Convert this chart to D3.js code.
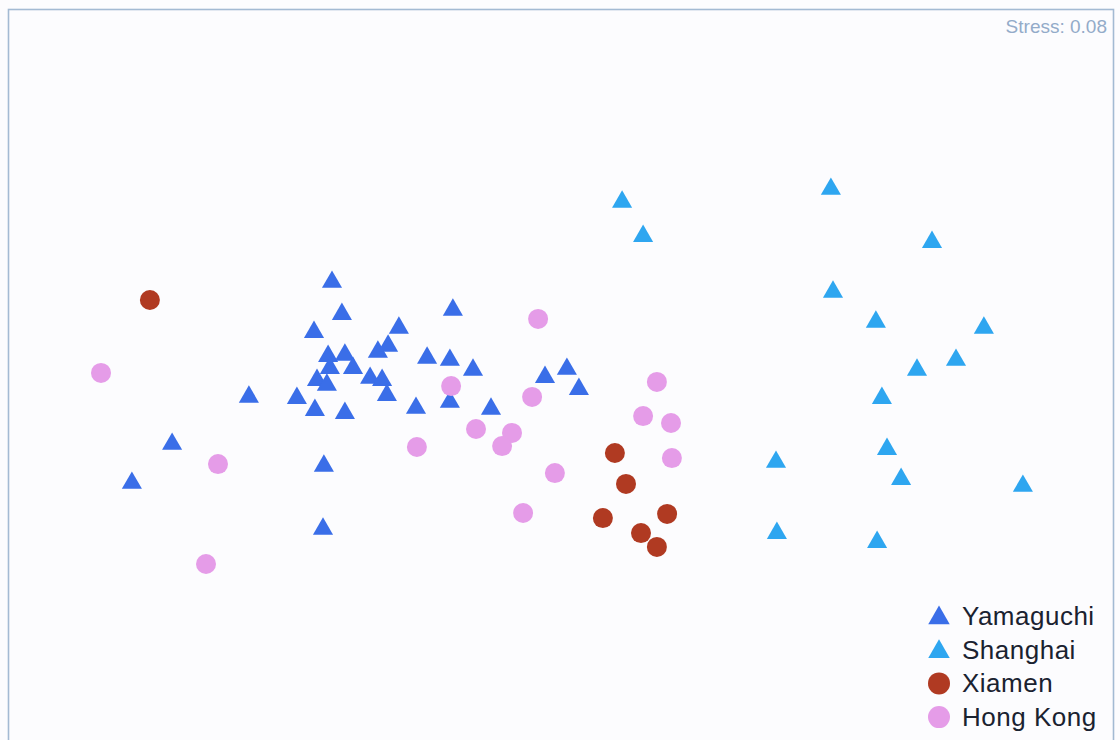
<!DOCTYPE html>
<html>
<head>
<meta charset="utf-8">
<script src="https://cdn.jsdelivr.net/npm/d3@7"></script>
<style>
  html, body { margin: 0; padding: 0; background: #fcfcfe; }
  svg { display: block; }
</style>
</head>
<body>
<svg id="chart" width="1120" height="740"></svg>
<script>
// NMDS coordinates (axis 1, axis 2) for each site group
const yamaguchi = [
  [-0.760, 0.320], [-0.727, 0.213], [-0.820, 0.153], [-0.537, 0.167], [-0.357, 0.227],
  [-0.773, 0.073], [-0.717, 0.077], [-0.767, 0.033], [-0.690, 0.033], [-0.607, 0.087],
  [-0.573, 0.107], [-0.443, 0.067], [-0.367, 0.060], [-0.290, 0.027], [-0.810, -0.007],
  [-0.777, -0.023], [-0.633, 0.000], [-0.593, -0.007], [-0.577, -0.057], [-1.037, -0.063],
  [-0.877, -0.067], [-0.817, -0.107], [-0.717, -0.117], [-0.480, -0.100], [-0.367, -0.080],
  [-0.230, -0.103], [-0.050, 0.003], [0.023, 0.030], [0.063, -0.037], [-1.293, -0.220],
  [-1.427, -0.350], [-0.787, -0.293], [-0.790, -0.503]
];
const shanghai = [
  [0.207, 0.587], [0.277, 0.473], [0.903, 0.630], [1.240, 0.453], [0.910, 0.287],
  [1.053, 0.187], [1.413, 0.167], [1.320, 0.060], [1.190, 0.027], [1.073, -0.067],
  [1.090, -0.237], [0.720, -0.280], [1.137, -0.337], [1.543, -0.360], [0.723, -0.517],
  [1.057, -0.547]
];
const xiamen = [
  [-1.367, 0.250], [0.183, -0.260], [0.220, -0.363], [0.143, -0.477], [0.357, -0.463],
  [0.270, -0.527], [0.323, -0.573]
];
const hongKong = [
  [-1.530, 0.007], [-1.140, -0.297], [-1.180, -0.630], [-0.073, 0.187], [-0.363, -0.037],
  [-0.093, -0.073], [-0.477, -0.240], [-0.280, -0.180], [-0.160, -0.193], [-0.193, -0.237],
  [-0.017, -0.327], [-0.123, -0.460], [0.323, -0.023], [0.277, -0.137], [0.370, -0.160],
  [0.373, -0.277]
];
const groupNames = ["Yamaguchi", "Shanghai", "Xiamen", "Hong Kong"];
const stressLabel = "Stress: 0.08";

const groups = [
  { name: groupNames[0], pts: yamaguchi, shape: d3.symbolTriangle, color: "#3a6ee8" },
  { name: groupNames[1], pts: shanghai,  shape: d3.symbolTriangle, color: "#2ea6f0" },
  { name: groupNames[2], pts: xiamen,    shape: d3.symbolCircle,   color: "#b03a22" },
  { name: groupNames[3], pts: hongKong,  shape: d3.symbolCircle,   color: "#e59ce8" }
];

const svg = d3.select("#chart");
const x = d3.scaleLinear().domain([-1.8, 1.8]).range([20, 1100]);
const y = d3.scaleLinear().domain([-1.2, 1.2]).range([735, 15]);

// frame
svg.append("rect")
  .attr("x", 8.5).attr("y", 9.5)
  .attr("width", 1105).attr("height", 740)
  .attr("fill", "#fcfcfe")
  .attr("stroke", "#a3bad3")
  .attr("stroke-width", 1.6);

// stress
svg.append("text")
  .attr("x", 1107).attr("y", 33)
  .attr("text-anchor", "end")
  .attr("font-family", "Liberation Sans, Arial, sans-serif")
  .attr("font-size", 19)
  .attr("fill", "#93abc9")
  .text(stressLabel);

const isTri = s => s === d3.symbolTriangle;
const sizeOf = s => isTri(s) ? 175 : 314;

groups.forEach(g => {
  // triangles: shift so bounding-box centre (not centroid) sits on the point
  const dy = isTri(g.shape) ? 3 : 0;
  svg.append("g").selectAll("path")
    .data(g.pts)
    .join("path")
    .attr("transform", d => `translate(${x(d[0])},${y(d[1]) + dy})`)
    .attr("d", d3.symbol().type(g.shape).size(sizeOf(g.shape)))
    .attr("fill", g.color);
});

// legend
const leg = svg.append("g").attr("transform", "translate(939,616)");
groups.forEach((g, i) => {
  const row = leg.append("g").attr("transform", `translate(0,${i * 33.7})`);
  row.append("path")
    .attr("transform", `translate(0,${isTri(g.shape) ? 2 : 0})`)
    .attr("d", d3.symbol().type(g.shape).size(isTri(g.shape) ? 200 : 380))
    .attr("fill", g.color);
  row.append("text")
    .attr("x", 23).attr("y", 9)
    .attr("font-family", "Liberation Sans, Arial, sans-serif")
    .attr("font-size", 26)
    .attr("letter-spacing", 0.5)
    .attr("fill", "#1a2230")
    .text(g.name);
});
</script>
</body>
</html>
